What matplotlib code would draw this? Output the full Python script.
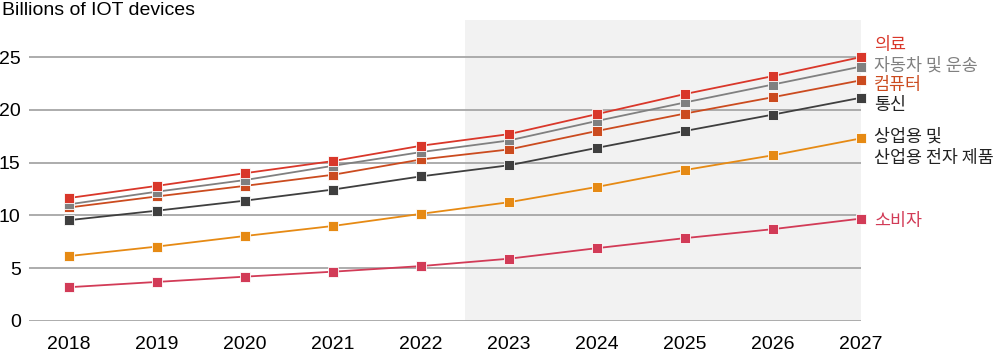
import matplotlib.pyplot as plt

years = [2018, 2019, 2020, 2021, 2022, 2023, 2024, 2025, 2026, 2027]

medical = [11.65, 12.8, 14.0, 15.15, 16.6, 17.7, 19.6, 21.5, 23.2, 25.0]
auto = [11.05, 12.25, 13.35, 14.7, 16.0, 17.1, 18.95, 20.7, 22.4, 24.1]
computer = [10.75, 11.8, 12.8, 13.85, 15.3, 16.25, 18.0, 19.65, 21.2, 22.8]
telecom = [9.55, 10.45, 11.4, 12.45, 13.7, 14.75, 16.4, 18.0, 19.55, 21.15]
industrial = [6.15, 7.05, 8.05, 9.0, 10.15, 11.25, 12.7, 14.3, 15.7, 17.3]
consumer = [3.2, 3.7, 4.2, 4.67, 5.2, 5.9, 6.9, 7.85, 8.7, 9.7]

series = [
    (consumer, '#d23b57'),
    (industrial, '#e68a14'),
    (telecom, '#3f3f3f'),
    (computer, '#cb4b1f'),
    (auto, '#808080'),
    (medical, '#d9372a'),
]

# label text, y in data units, colour
labels = [
    ("의료", 26.1, '#d9372a'),
    ("자동차 및 운송", 24.2, '#808080'),
    ("컴퓨터", 22.4, '#cb4b1f'),
    ("통신", 20.5, '#222222'),
    ("상업용 및", 17.5, '#222222'),
    ("산업용 전자 제품", 15.4, '#222222'),
    ("소비자", 9.45, '#d23b57'),
]

plt.rcParams['font.family'] = ['Liberation Sans', 'Noto Sans CJK KR']

fig = plt.figure(figsize=(10, 3.53), dpi=100)
ax = fig.add_axes([0.029, 0.0907, 0.832, 0.8523])

ax.axvspan(2022.5, 2027, color='#f2f2f2', zorder=0, lw=0)
for v in [0, 5, 10, 15, 20, 25]:
    ax.axhline(v, color='#a6a6a6', lw=1.3, zorder=1)

for vals, c in series:
    ax.plot(years, vals, color=c, lw=1.3, marker='s', markersize=7.5,
            markeredgecolor='white', markeredgewidth=0.6, zorder=3, clip_on=False)

for txt, y, c in labels:
    ax.text(2027.15, y, txt, color=c, fontsize=12.5, va='center', ha='left',
            family=['Noto Sans CJK KR'], fontweight='medium')

ax.set_xlim(2017.545, 2027)
ax.set_ylim(0, 28.5)
ax.set_xticks(years)
ax.set_xticklabels([str(y) for y in years], fontsize=14)
ax.set_yticks([0, 5, 10, 15, 20, 25])
ax.set_yticklabels(['0', '5', '10', '15', '20', '25'], fontsize=14)
ax.tick_params(length=0, axis='y', pad=6)
ax.tick_params(length=0, axis='x', pad=11)
for s in ax.spines.values():
    s.set_visible(False)

fig.text(0.002, 0.97, "Billions of IOT devices", fontsize=14, va='center', ha='left')

fig.savefig("out.png", dpi=100)
